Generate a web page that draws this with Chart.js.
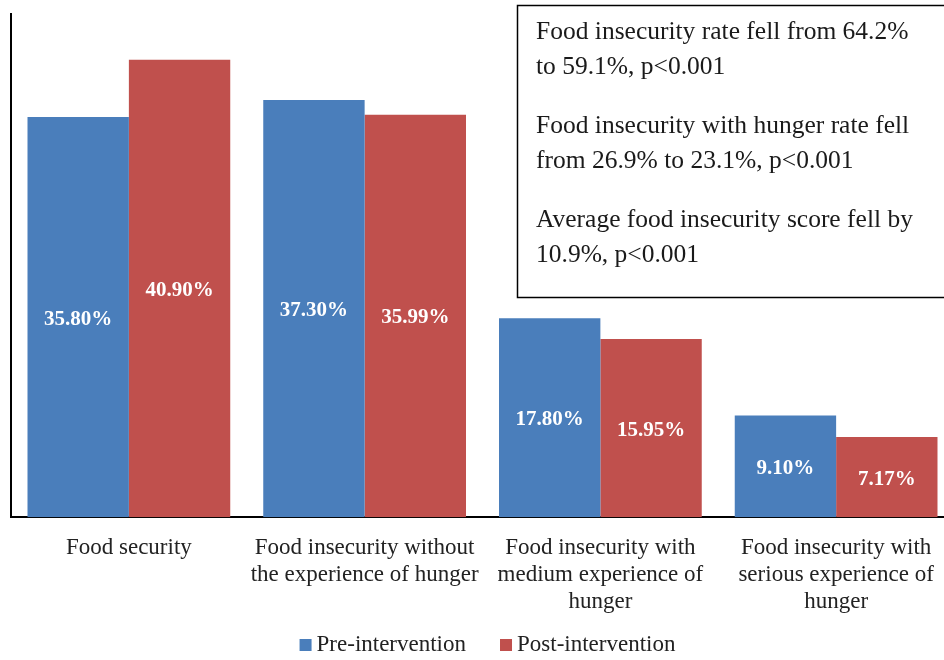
<!DOCTYPE html>
<html>
<head>
<meta charset="utf-8">
<script src="https://cdn.jsdelivr.net/npm/chart.js@4"></script>
<style>
    html, body { margin: 0; padding: 0; background: #fff; overflow: hidden; }
    #wrap { width: 954px; height: 660px; }
</style>
</head>
<body>
<div id="wrap"><canvas id="foodChart" width="954" height="660"></canvas></div>
<script>
const categories = [
    "Food security",
    ["Food insecurity without", "the experience of hunger"],
    ["Food insecurity with", "medium experience of", "hunger"],
    ["Food insecurity with", "serious experience of", "hunger"]
];
const preValues = [35.80, 37.30, 17.80, 9.10];
const postValues = [40.90, 35.99, 15.95, 7.17];
const noteLines = [
    ["Food insecurity rate fell from 64.2%", "to 59.1%, p<0.001"],
    ["Food insecurity with hunger rate fell", "from 26.9% to 23.1%, p<0.001"],
    ["Average food insecurity score fell by", "10.9%, p<0.001"]
];

const serif = "'Liberation Serif', 'Times New Roman', serif";

// value labels in the middle of each bar
const barLabels = {
    id: "barLabels",
    afterDatasetsDraw(chart) {
        const c = chart.ctx;
        c.save();
        c.font = "bold 21px " + serif;
        c.fillStyle = "#fff";
        c.textAlign = "center";
        c.textBaseline = "middle";
        chart.data.datasets.forEach(function (ds, i) {
            chart.getDatasetMeta(i).data.forEach(function (bar, j) {
                c.fillText(ds.data[j].toFixed(2) + "%", bar.x, (bar.y + bar.base) / 2 + 2);
            });
        });
        c.restore();
    }
};

// summary box top right + bottom legend (excel style spacing)
const extras = {
    id: "extras",
    afterDraw(chart) {
        const c = chart.ctx;
        c.save();
        c.strokeStyle = "#000";
        c.lineWidth = 1.5;
        c.strokeRect(517.5, 5.5, 450, 292);
        c.font = "25.5px " + serif;
        c.fillStyle = "#1a1a1a";
        c.textBaseline = "middle";
        let y = 32;
        noteLines.forEach(function (para) {
            para.forEach(function (line) {
                c.fillText(line, 536, y);
                y += 35;
            });
            y += 24;
        });

        c.font = "23px " + serif;
        const items = chart.data.datasets.map(function (ds) {
            return { text: ds.label, color: ds.backgroundColor, w: c.measureText(ds.label).width };
        });
        const total = items.reduce(function (s, it) { return s + 12 + 5 + it.w; }, 0) + 34 * (items.length - 1);
        let x = (chart.chartArea.left + chart.chartArea.right) / 2 + 5 - total / 2;
        const ly = 645;
        items.forEach(function (it) {
            c.fillStyle = it.color;
            c.fillRect(x, ly - 6, 12, 12);
            c.fillStyle = "#222";
            c.fillText(it.text, x + 17, ly);
            x += 17 + it.w + 34;
        });
        c.restore();
    }
};

new Chart(document.getElementById("foodChart"), {
    type: "bar",
    data: {
        labels: categories,
        datasets: [{
            label: "Pre-intervention",
            data: preValues,
            backgroundColor: "#4A7EBB"
        }, {
            label: "Post-intervention",
            data: postValues,
            backgroundColor: "#C0504D"
        }]
    },
    options: {
        responsive: false,
        animation: false,
        devicePixelRatio: 1,
        layout: { padding: { left: 3, top: 14, right: 0, bottom: 36 } },
        categoryPercentage: 0.86,
        barPercentage: 1,
        scales: {
            x: {
                grid: { display: false },
                border: { color: "#000", width: 2 },
                ticks: {
                    color: "#222",
                    font: { family: serif, size: 23, lineHeight: 1.17 },
                    padding: 9,
                    maxRotation: 0
                }
            },
            y: {
                min: 0,
                max: 45,
                grid: { display: false },
                border: { color: "#000", width: 2 },
                ticks: { display: false }
            }
        },
        plugins: {
            legend: { display: false },
            tooltip: { enabled: false }
        }
    },
    plugins: [barLabels, extras]
});
</script>
</body>
</html>
